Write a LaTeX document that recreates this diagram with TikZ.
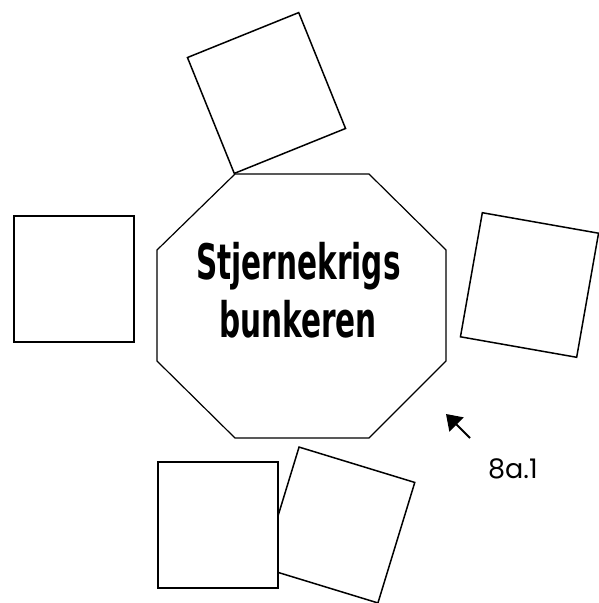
\documentclass[tikz,border=0pt]{standalone}
\usepackage{fontspec}
\usepackage{graphicx}
\usetikzlibrary{arrows.meta}
\newfontfamily\bunkerfont{DejaVu Sans Condensed Bold}
\newfontfamily\labelfont{Poppins}

\begin{document}
\begin{tikzpicture}[x=1pt, y=-1pt,
		mybox/.style={draw, fill=white, line width=1.5pt, minimum width=120pt, minimum height=126pt, inner sep=0pt, outer sep=0pt},
		mytitle/.style={anchor=base, inner sep=0pt, font=\bunkerfont\fontsize{49}{58}\selectfont}
	]
		\useasboundingbox (0,0) rectangle (599,603);

		% the bunker
		\draw[line width=1.2pt] (235,174) -- (369,174) -- (446,250) -- (446,361)
			-- (369,438) -- (235,438) -- (157,361) -- (157,250) -- cycle;
		\node[mytitle] (titletop) at (298.5,279) {\scalebox{0.67}[1]{Stjernekrigs}};
		\node[mytitle] (titlebottom) at (298,337) {\scalebox{0.67}[1]{bunkeren}};

		% the boxes round it
		\node[mybox, minimum height=125pt, rotate=22] (boxtop) at (266.5,93) {};
		\node[mybox, minimum width=118pt, rotate=-10] (boxright) at (529.5,285) {};
		\node[mybox] (boxleft) at (74,279) {};
		\node[mybox, minimum width=121pt, rotate=-17] (boxlowright) at (338.5,525) {};
		\node[mybox] (boxlowleft) at (218,525) {};

		% the label
		\node[font=\labelfont\fontsize{27}{30}\selectfont, inner sep=0pt] (tag) at (513,469) {8a.1};
		\coordinate (tagtail) at (470,438);
		\coordinate (tagtip) at (446,414);
		\draw[-{Triangle[length=15pt, width=20pt]}, line width=1.8pt] (tagtail) -- (tagtip);

	\end{tikzpicture}
\end{document}
